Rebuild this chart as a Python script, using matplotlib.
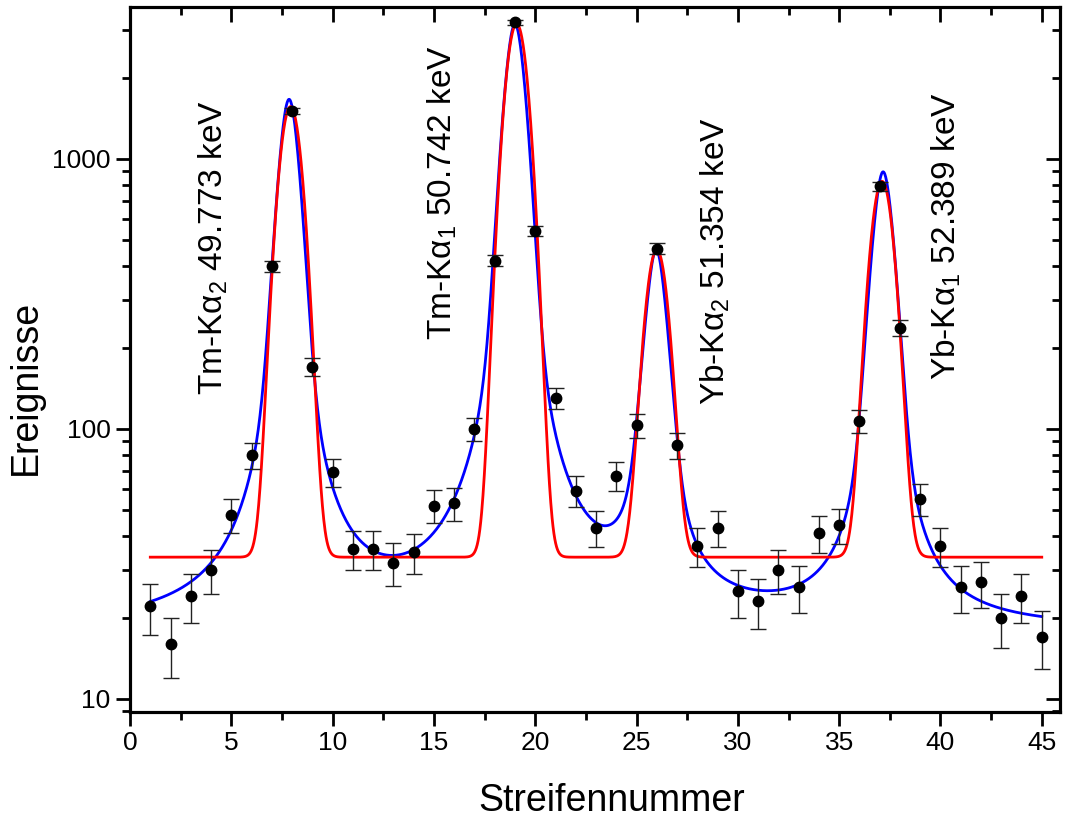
import numpy as np
import matplotlib
matplotlib.use("Agg")
import matplotlib.pyplot as plt
from matplotlib.ticker import MultipleLocator, LogLocator, NullFormatter

plt.rcParams['font.family'] = ['Liberation Sans', 'DejaVu Sans']
plt.rcParams['mathtext.fontset'] = 'custom'
plt.rcParams['mathtext.rm'] = 'Liberation Sans'
plt.rcParams['mathtext.it'] = 'Liberation Sans'
plt.rcParams['mathtext.bf'] = 'Liberation Sans:bold'

# ---- measured data (strip number vs counts) ----
strip = [1, 2, 3, 4, 5, 6, 7, 8, 9, 10, 11, 12, 13, 14, 15, 16, 17, 18, 19, 20,
         21, 22, 23, 24, 25, 26, 27, 28, 29, 30, 31, 32, 33, 34, 35, 36, 37, 38, 39, 40,
         41, 42, 43, 44, 45]
counts = [22, 16, 24, 30, 48, 80, 400, 1500, 170, 69, 36, 36, 32, 35, 52, 53, 100, 420, 3200, 540,
          130, 59, 43, 67, 103, 465, 87, 37, 43, 25, 23, 30, 26, 41, 44, 107, 790, 237, 55, 37,
          26, 27, 20, 24, 17]
errors = [4.7, 4.0, 4.9, 5.5, 6.9, 8.9, 20.0, 38.7, 13.0, 8.3, 6.0, 6.0, 5.7, 5.9, 7.2, 7.3, 10.0, 20.5, 56.6, 23.2,
          11.4, 7.7, 6.6, 8.2, 10.1, 21.6, 9.3, 6.1, 6.6, 5.0, 4.8, 5.5, 5.1, 6.4, 6.6, 10.3, 28.1, 15.4, 7.4, 6.1,
          5.1, 5.2, 4.5, 4.9, 4.1]

# ---- fit parameters: Gaussian fit (red) ----
red_background = 33.5
red_centers = [7.92, 19.08, 26.0, 37.12]
red_amplitudes = [1527, 3130, 427, 792]
red_sigmas = [0.53, 0.53, 0.52, 0.53]

# ---- fit parameters: Voigt-like fit (blue) ----
blue_background = 17.8
blue_centers = [7.85, 19.0, 25.97, 37.17]
blue_lor_amplitudes = [756, 1250, 240, 400]
blue_lor_widths = [0.5, 0.5, 0.5, 0.5]
blue_gauss_amplitudes = [885, 1880, 195, 476]
blue_gauss_sigmas = [0.48, 0.5, 0.5, 0.5]

# ---- labels ----
peak_labels = ['Tm-Kα$_2$ 49.773 keV', 'Tm-Kα$_1$ 50.742 keV',
               'Yb-Kα$_2$ 51.354 keV', 'Yb-Kα$_1$ 52.389 keV']
label_x = [4.1, 15.4, 28.9, 40.3]
label_y = [134, 213, 123, 152]
x_ticks = [0, 5, 10, 15, 20, 25, 30, 35, 40, 45]
y_ticks = [10, 100, 1000]
y_tick_labels = ['10', '100', '1000']

fig = plt.figure(figsize=(10.65, 8.23), dpi=100)
ax = fig.add_axes([0.1221, 0.1349, 0.9953 - 0.1221, 0.9915 - 0.1349])

xs = np.linspace(strip[0], strip[-1], 2000)
red = np.full_like(xs, red_background)
for c, a, s in zip(red_centers, red_amplitudes, red_sigmas):
    red += a * np.exp(-(xs - c) ** 2 / (2 * s ** 2))
blue = np.full_like(xs, blue_background)
for c, al, g, ag, s in zip(blue_centers, blue_lor_amplitudes, blue_lor_widths,
                           blue_gauss_amplitudes, blue_gauss_sigmas):
    blue += al * g ** 2 / ((xs - c) ** 2 + g ** 2) + ag * np.exp(-(xs - c) ** 2 / (2 * s ** 2))

ax.plot(xs, blue, color='#0000FF', lw=2.0, zorder=2)
ax.plot(xs, red, color='#FF0000', lw=2.0, zorder=3)
ax.errorbar(strip, counts, yerr=errors, fmt='o', color='black', ecolor='#222222',
            elinewidth=1.0, capsize=6, capthick=1.0, markersize=7.5, zorder=4)

ax.set_yscale('log')
ax.set_xlim(0, 45.9)
ax.set_ylim(8.95, 3650)

ax.set_xticks(x_ticks)
ax.xaxis.set_minor_locator(MultipleLocator(2.5))
ax.set_yticks(y_ticks)
ax.set_yticklabels(y_tick_labels)
ax.yaxis.set_minor_locator(LogLocator(base=10, subs=np.arange(2, 10)))
ax.yaxis.set_minor_formatter(NullFormatter())

ax.tick_params(axis='both', which='major', direction='out', length=10, width=2, labelsize=19, pad=4)
ax.tick_params(axis='both', which='minor', direction='out', length=5.5, width=2)
for sp in ax.spines.values():
    sp.set_linewidth(2.2)

# top and right inward ticks
ax_r = ax.twinx()
ax_r.set_yscale('log')
ax_r.set_ylim(ax.get_ylim())
ax_r.set_yticks(y_ticks)
ax_r.yaxis.set_minor_locator(LogLocator(base=10, subs=np.arange(2, 10)))
ax_r.tick_params(axis='y', which='major', direction='in', length=10, width=2, labelright=False)
ax_r.tick_params(axis='y', which='minor', direction='in', length=5.5, width=2, labelright=False)
ax_r.yaxis.set_minor_formatter(NullFormatter())
ax_t = ax.twiny()
ax_t.set_xlim(ax.get_xlim())
ax_t.set_xticks(x_ticks)
ax_t.xaxis.set_minor_locator(MultipleLocator(2.5))
ax_t.tick_params(axis='x', which='major', direction='in', length=11, width=2, labeltop=False)
ax_t.tick_params(axis='x', which='minor', direction='in', length=6, width=2, labeltop=False)
for a2 in (ax_r, ax_t):
    for sp in a2.spines.values():
        sp.set_linewidth(2.2)

ax.set_xlabel('Streifennummer', fontsize=27)
ax.xaxis.label.set_va('center')
ax.xaxis.set_label_coords(0.518, -0.126)
ax.set_ylabel('Ereignisse', fontsize=27)
ax.yaxis.label.set_va('center')
ax.yaxis.set_label_coords(-0.112, 0.461)

for t, x, y in zip(peak_labels, label_x, label_y):
    ax.text(x, y, t, rotation=90, ha='center', va='bottom', fontsize=24, zorder=5)

fig.savefig('out.png', dpi=100)
